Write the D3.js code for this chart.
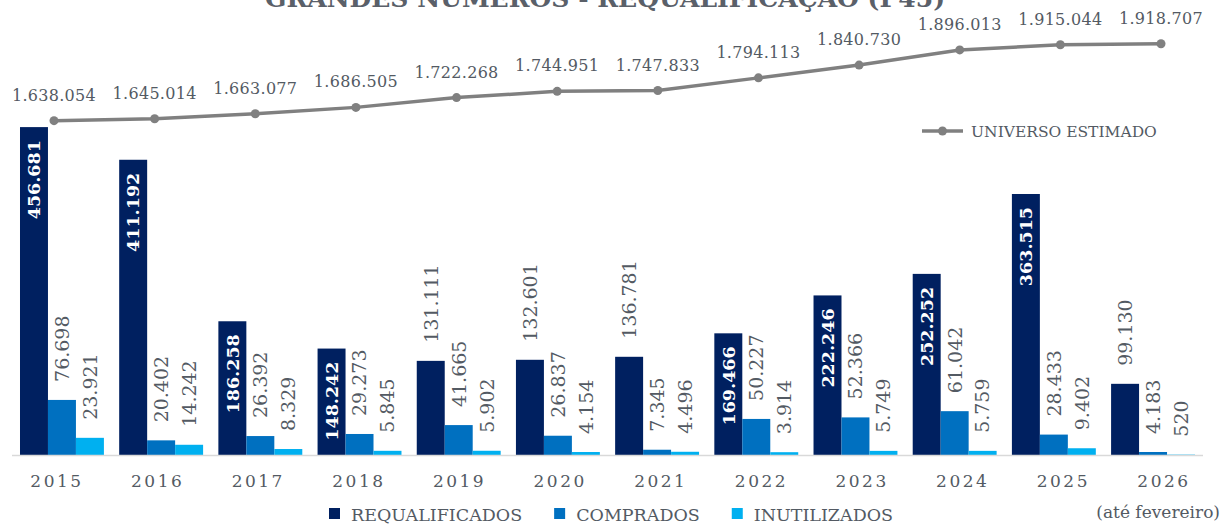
<!DOCTYPE html>
<html>
<head>
<meta charset="utf-8">
<script src="https://cdn.jsdelivr.net/npm/d3@7"></script>
<style>
  body { margin: 0; background: #fff; }
  svg { display: block; font-family: "DejaVu Serif", serif; }
</style>
</head>
<body>
<div class="chart"></div>
<script>
var svgWidth = 1230;
var svgHeight = 529;

// Data
var years = ["2015", "2016", "2017", "2018", "2019", "2020", "2021", "2022", "2023", "2024", "2025", "2026"];
var requalificados = [456681, 411192, 186258, 148242, 131111, 132601, 136781, 169466, 222246, 252252, 363515, 99130];
var comprados = [76698, 20402, 26392, 29273, 41665, 26837, 7345, 50227, 52366, 61042, 28433, 4183];
var inutilizados = [23921, 14242, 8329, 5845, 5902, 4154, 4496, 3914, 5749, 5759, 9402, 520];
var universo = [1638054, 1645014, 1663077, 1686505, 1722268, 1744951, 1747833, 1794113, 1840730, 1896013, 1915044, 1918707];
var seriesNames = ["REQUALIFICADOS", "COMPRADOS", "INUTILIZADOS"];
var seriesColors = ["#002060", "#0070c0", "#00b0f0"];
var lineName = "UNIVERSO ESTIMADO";
var title = "GRANDES NÚMEROS - REQUALIFICAÇÃO (P45)";
var note = "(até fevereiro)";

var textColor = "#535a63";
var lineColor = "#808080";

var ptBR = d3.formatLocale({ decimal: ",", thousands: ".", grouping: [3], currency: ["R$", ""] });
var fmt = ptBR.format(",d");

var barData = years.map(function(y, i) {
  return { year: y, values: [requalificados[i], comprados[i], inutilizados[i]] };
});

var svg = d3.select(".chart")
  .append("svg")
  .attr("width", svgWidth)
  .attr("height", svgHeight);

// Scales
var x0 = d3.scaleBand()
  .domain(years)
  .range([12, 1203])
  .paddingInner(0.154)
  .paddingOuter(0.0806);

var x1 = d3.scaleBand()
  .domain(d3.range(seriesNames.length))
  .range([0, x0.bandwidth()]);

var xLine = d3.scalePoint()
  .domain(years)
  .range([54, 1161]);

var yBar = d3.scaleLinear()
  .domain([0, 500000])
  .range([455, 96]);

var yLine = d3.scaleLinear()
  .domain([1600000, 2000000])
  .range([131.1, 21.4]);

// Title (cut off at the top like the reference)
svg.append("text")
  .attr("x", 605)
  .attr("y", 7)
  .attr("text-anchor", "middle")
  .attr("font-weight", "bold")
  .attr("font-size", "25px")
  .attr("textLength", 680)
  .attr("lengthAdjust", "spacingAndGlyphs")
  .attr("fill", "#5a6069")
  .text(title);

// Bars
var groups = svg.append("g").selectAll("g")
  .data(barData)
  .enter()
  .append("g")
  .attr("transform", d => `translate(${x0(d.year)},0)`);

groups.selectAll("rect")
  .data(d => d.values.map((v, i) => ({ i: i, v: v })))
  .enter()
  .append("rect")
  .attr("x", d => x1(d.i))
  .attr("y", d => yBar(d.v))
  .attr("width", x1.bandwidth())
  .attr("height", d => yBar(0) - yBar(d.v))
  .attr("fill", d => seriesColors[d.i]);

// Bar labels, rotated
groups.selectAll("text")
  .data(d => d.values.map((v, i) => ({ i: i, v: v })))
  .enter()
  .append("text")
  .attr("dy", "0.36em")
  .text(d => fmt(d.v))
  .each(function(d) {
    var t = d3.select(this);
    var cx = x1(d.i) + x1.bandwidth() / 2;
    var top = yBar(d.v);
    var h = yBar(0) - top;
    if (d.i === 0) {
      t.attr("font-size", "17.5px").attr("font-weight", "bold");
    } else {
      t.attr("font-size", "19px");
    }
    var len = this.getComputedTextLength();
    if (d.i === 0 && h >= len + 20) {
      t.attr("text-anchor", "end")
        .attr("fill", "#ffffff")
        .attr("transform", `translate(${cx},${top + 13}) rotate(-90)`);
    } else {
      t.attr("font-weight", "normal")
        .attr("font-size", "19px")
        .attr("text-anchor", "start")
        .attr("fill", textColor)
        .attr("transform", `translate(${cx},${top - 18}) rotate(-90)`);
    }
  });

// Axis line
svg.append("line")
  .attr("x1", 12)
  .attr("x2", 1203)
  .attr("y1", yBar(0) + 0.5)
  .attr("y2", yBar(0) + 0.5)
  .attr("stroke", "#d9d9d9")
  .attr("stroke-width", 1.5);

// Year labels
svg.append("g").selectAll("text")
  .data(years)
  .enter()
  .append("text")
  .attr("x", d => xLine(d) + 3)
  .attr("y", 487)
  .attr("text-anchor", "middle")
  .attr("font-size", "17px")
  .attr("letter-spacing", "2.5px")
  .attr("fill", textColor)
  .text(d => d);

// Line: universo estimado
var line = d3.line()
  .x((d, i) => xLine(years[i]))
  .y(d => yLine(d));

svg.append("path")
  .datum(universo)
  .attr("d", line)
  .attr("fill", "none")
  .attr("stroke", lineColor)
  .attr("stroke-width", 3.5);

svg.append("g").selectAll("circle")
  .data(universo)
  .enter()
  .append("circle")
  .attr("cx", (d, i) => xLine(years[i]))
  .attr("cy", d => yLine(d))
  .attr("r", 4.5)
  .attr("fill", lineColor);

svg.append("g").selectAll("text")
  .data(universo)
  .enter()
  .append("text")
  .attr("x", (d, i) => xLine(years[i]))
  .attr("y", d => yLine(d) - 20)
  .attr("text-anchor", "middle")
  .attr("font-size", "16px")
  .attr("letter-spacing", "0.3px")
  .attr("fill", textColor)
  .text(d => fmt(d));

// Line legend
var lineLegend = svg.append("g").attr("transform", "translate(922,131)");
lineLegend.append("line")
  .attr("x1", 0).attr("x2", 41)
  .attr("stroke", lineColor)
  .attr("stroke-width", 3.5);
lineLegend.append("circle")
  .attr("cx", 20.5).attr("r", 4.5)
  .attr("fill", lineColor);
lineLegend.append("text")
  .attr("x", 49)
  .attr("y", 5.5)
  .attr("font-size", "15.5px")
  .attr("fill", textColor)
  .text(lineName);

// Bar legend
var legend = svg.append("g").attr("transform", "translate(0,508)");
var lx = 329;
seriesNames.forEach(function(name, i) {
  legend.append("rect")
    .attr("x", lx).attr("y", 0)
    .attr("width", 11).attr("height", 11)
    .attr("fill", seriesColors[i]);
  var t = legend.append("text")
    .attr("x", lx + 22)
    .attr("y", 13)
    .attr("font-size", "17.5px")
    .attr("fill", textColor)
    .text(name);
  lx = lx + 22 + t.node().getComputedTextLength() + 32;
});

svg.append("text")
  .attr("x", 1220)
  .attr("y", 518)
  .attr("text-anchor", "end")
  .attr("font-size", "17px")
  .attr("fill", textColor)
  .text(note);
</script>
</body>
</html>
